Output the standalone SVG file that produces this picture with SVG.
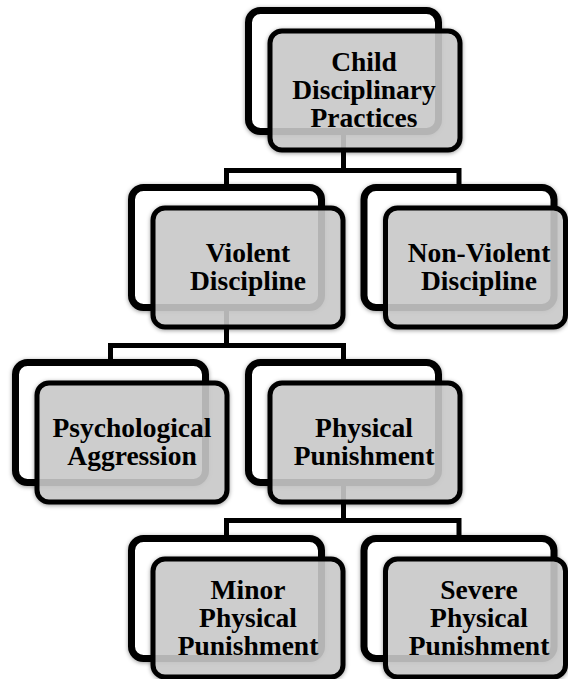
<svg xmlns="http://www.w3.org/2000/svg" width="568" height="679" viewBox="0 0 568 679">
<defs>
<filter id="sh" x="-10%" y="-10%" width="120%" height="125%">
<feDropShadow dx="0" dy="1" stdDeviation="2" flood-color="#000" flood-opacity="0.4"/>
</filter>
<style>
.back{fill:#ffffff;stroke:#000;stroke-width:7;filter:url(#sh)}
.front{fill:#cccccc;fill-opacity:0.85;stroke:#000;stroke-width:5;filter:url(#sh)}
.conn{fill:none;stroke:#000;stroke-width:5;stroke-linejoin:miter;stroke-linecap:butt}
text{font-family:"Liberation Serif","Times New Roman",serif;font-weight:bold;font-size:27.5px;text-anchor:middle;fill:#000}
</style>
</defs>
<rect width="568" height="679" fill="#fff"/>
<g id="connectors">
<path class="conn" d="M226.5 190 V170.5 H459 V190 M343.5 130 V170.5"/>
<path class="conn" d="M110.5 365 V345.5 H343.5 V365 M226.5 305 V345.5"/>
<path class="conn" d="M226.5 541 V520.5 H459 V541 M343.5 480 V520.5"/>
</g>
<g id="root">
<rect class="back" x="248.5" y="10.5" width="190" height="121" rx="12"/>
<rect class="front" x="270" y="31" width="190" height="119" rx="12"/>
<text x="364" y="71">Child</text>
<text x="364" y="99">Disciplinary</text>
<text x="364" y="127">Practices</text>
</g>
<g id="violent">
<rect class="back" x="131.5" y="187.5" width="190" height="120" rx="12"/>
<rect class="front" x="153" y="208" width="190" height="119" rx="12"/>
<text x="248" y="262">Violent</text>
<text x="248" y="290">Discipline</text>
</g>
<g id="nonviolent">
<rect class="back" x="364" y="187.5" width="190" height="120" rx="12"/>
<rect class="front" x="385.5" y="208" width="180" height="119" rx="12"/>
<text x="479" y="262">Non-Violent</text>
<text x="479" y="290">Discipline</text>
</g>
<g id="psychological">
<rect class="back" x="15.5" y="362.5" width="190" height="120" rx="12"/>
<rect class="front" x="37" y="383" width="190" height="119" rx="12"/>
<text x="132" y="437">Psychological</text>
<text x="132" y="465">Aggression</text>
</g>
<g id="physical">
<rect class="back" x="248.5" y="362.5" width="190" height="120" rx="12"/>
<rect class="front" x="270" y="383" width="190" height="119" rx="12"/>
<text x="364" y="437">Physical</text>
<text x="364" y="465">Punishment</text>
</g>
<g id="minor">
<rect class="back" x="131.5" y="538.5" width="190" height="120" rx="12"/>
<rect class="front" x="153" y="559" width="190" height="118" rx="12"/>
<text x="248" y="599">Minor</text>
<text x="248" y="627">Physical</text>
<text x="248" y="655">Punishment</text>
</g>
<g id="severe">
<rect class="back" x="364" y="538.5" width="190" height="120" rx="12"/>
<rect class="front" x="385.5" y="559" width="180" height="118" rx="12"/>
<text x="479" y="599">Severe</text>
<text x="479" y="627">Physical</text>
<text x="479" y="655">Punishment</text>
</g>
</svg>
